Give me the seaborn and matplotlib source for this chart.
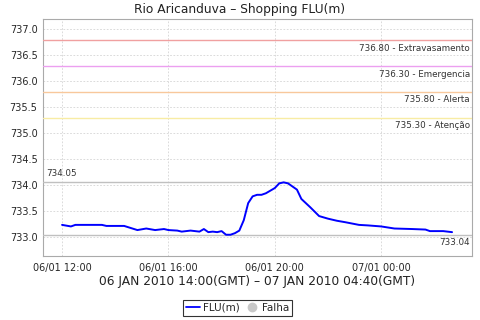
import matplotlib
matplotlib.use("Agg")
import matplotlib.pyplot as plt
import seaborn as sns
import pandas as pd
from matplotlib.lines import Line2D

# minutes after 06/01 12:00 (local) and level readings
minutes = [0, 20, 30, 90, 100, 140, 170, 190, 210, 230, 240, 260, 270, 290,
           310, 320, 330, 340, 350, 360, 370, 380, 390, 400, 410, 420, 430,
           440, 450, 460, 480, 490, 500, 510, 530, 540, 560, 580, 600, 620,
           640, 670, 690, 720, 750, 790, 820, 830, 860, 880]
level = [733.23, 733.20, 733.23, 733.23, 733.21, 733.21, 733.13, 733.16,
         733.13, 733.15, 733.13, 733.12, 733.10, 733.12, 733.10, 733.15,
         733.09, 733.10, 733.09, 733.11, 733.04, 733.04, 733.07, 733.12,
         733.32, 733.65, 733.78, 733.81, 733.81, 733.84, 733.94, 734.03,
         734.05, 734.03, 733.91, 733.73, 733.57, 733.40, 733.35, 733.31,
         733.28, 733.23, 733.22, 733.20, 733.16, 733.15, 733.14, 733.11,
         733.11, 733.09]

tick_minutes = [0, 240, 480, 720]
tick_labels = ["06/01 12:00", "06/01 16:00", "06/01 20:00", "07/01 00:00"]

thresholds = [736.80, 736.30, 735.80, 735.30]
threshold_names = ["Extravasamento", "Emergencia", "Alerta", "Atenção"]
threshold_colors = ["#f0a0a0", "#eca0f0", "#f8c89c", "#f8eca4"]

max_val, max_label = 734.05, "734.05"
min_val, min_label = 733.04, "733.04"

title = "Rio Aricanduva – Shopping FLU(m)"
xlabel = "06 JAN 2010 14:00(GMT) – 07 JAN 2010 04:40(GMT)"

sns.set_style("white")
plt.rcParams['font.family'] = ['DejaVu Sans']

df = pd.DataFrame({"t": minutes, "FLU(m)": level})

fig = plt.figure(figsize=(4.8, 3.2), dpi=100)
ax = fig.add_axes([43/480, 1-256/320, (472-43)/480, (256-19)/320])

sns.lineplot(data=df, x="t", y="FLU(m)", ax=ax, color="#0000ff", lw=1.4,
             zorder=5)

ax.set_xlim(-43, 925)
ax.set_ylim(732.63, 737.2)

ax.set_yticks([733.0, 733.5, 734.0, 734.5, 735.0, 735.5, 736.0, 736.5, 737.0])
ax.set_yticklabels([f"{v:.1f}" for v in ax.get_yticks()])
ax.set_xticks(tick_minutes)
ax.set_xticklabels(tick_labels)
ax.tick_params(axis="both", labelsize=7, length=2, width=0.6,
               color="#999999", pad=2)
ax.tick_params(axis="x", pad=3)

ax.grid(True, color="#d4d4d4", linestyle=(0, (2, 2)), linewidth=0.6)
for s in ax.spines.values():
    s.set_color("#aaaaaa")
    s.set_linewidth(0.8)

for v, n, c in zip(thresholds, threshold_names, threshold_colors):
    ax.axhline(v, color=c, lw=1.0, zorder=3)
    ax.annotate(f"{v:.2f} - {n}", xy=(0.995, v), xycoords=("axes fraction", "data"),
                xytext=(0, -6), textcoords="offset points",
                ha="right", va="center", fontsize=6.3, color="#333333")

ax.axhline(max_val, color="#c0c0c0", lw=1.0, zorder=3)
ax.axhline(min_val, color="#c0c0c0", lw=1.0, zorder=3)
ax.annotate(max_label, xy=(0.008, max_val), xycoords=("axes fraction", "data"),
            xytext=(0, 6.5), textcoords="offset points",
            ha="left", va="center", fontsize=6.3, color="#333333")
ax.annotate(min_label, xy=(0.995, min_val), xycoords=("axes fraction", "data"),
            xytext=(0, -5.5), textcoords="offset points",
            ha="right", va="center", fontsize=6.3, color="#333333")

ax.set_ylabel("")
ax.set_xlabel(xlabel, fontsize=8.8, labelpad=1.5, color="#222222")
fig.text(0.5, 1-9/320, title, ha="center", va="center", fontsize=8.8,
         color="#222222")

handles = [Line2D([0], [0], color="#0000ff", lw=1.3),
           Line2D([0], [0], marker="o", color="none", markerfacecolor="#c8c8c8",
                  markeredgecolor="#c8c8c8", markersize=6)]
leg = fig.legend(handles, ["FLU(m)", "Falha"], loc="center",
                 bbox_to_anchor=(237.5/480, 1-308/320), ncol=2, fontsize=7.5,
                 frameon=True, fancybox=False, handlelength=1.4,
                 handletextpad=0.3, columnspacing=0.4, borderpad=0.3,
                 borderaxespad=0)
leg.get_frame().set_edgecolor("black")
leg.get_frame().set_linewidth(0.8)

fig.savefig("out.png", dpi=100)
